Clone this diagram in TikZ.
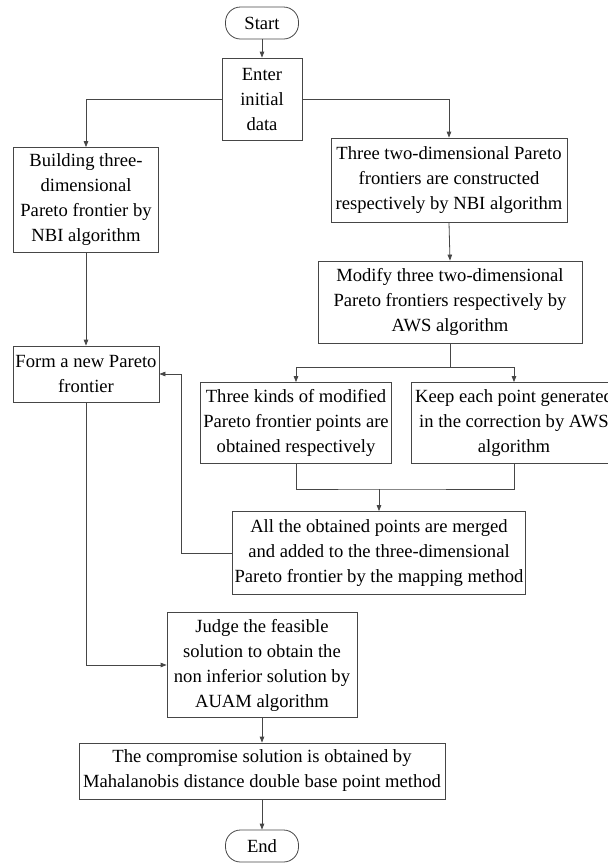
\documentclass[tikz,border=0pt]{standalone}
\usepackage{fontspec}
\setmainfont{Liberation Serif}
\usetikzlibrary{shapes,arrows,arrows.meta,positioning,calc}
\definecolor{linegray}{RGB}{70,70,70}

\begin{document}
\begin{tikzpicture}[x=1pt,y=-1pt,
  procbox/.style={
    draw=linegray, rectangle, align=center, inner sep=1pt, line width=0.8pt,
    font=\fontsize{18.6}{25}\selectfont
  },
  termbox/.style={
    draw=linegray, rectangle, rounded corners=15pt, align=center, line width=0.8pt,
    minimum width=73pt, minimum height=32pt, inner sep=1pt,
    font=\fontsize{18.6}{25}\selectfont
  },
  link/.style={draw=linegray, line width=0.8pt},
  edge/.style={link, -{Triangle[length=6pt,width=4.5pt]}}
]
\useasboundingbox (0,0) rectangle (608,863);

\node[termbox] (start) at (262,23) {Start};
\node[procbox, minimum width=80pt, minimum height=82pt] (enter) at (262,99) {Enter\\initial\\data};
\node[procbox, minimum width=145pt, minimum height=105pt] (build) at (86,200)
  {Building three-\\dimensional\\Pareto frontier by\\NBI algorithm};
\node[procbox, minimum width=236pt, minimum height=84pt] (twodim) at (449,180)
  {Three two-dimensional Pareto\\frontiers are constructed\\respectively by NBI algorithm};
\node[procbox, minimum width=264pt, minimum height=82pt] (modify) at (450,302)
  {Modify three two-dimensional\\Pareto frontiers respectively by\\AWS algorithm};
\node[procbox, minimum width=146pt, minimum height=56pt] (form) at (86,374)
  {Form a new Pareto\\frontier};
\node[procbox, minimum width=191pt, minimum height=81pt] (kinds) at (296,423)
  {Three kinds of modified\\Pareto frontier points are\\obtained respectively};
\node[procbox, minimum width=206pt, minimum height=81pt] (keep) at (514,423)
  {Keep each point generated\\in the correction by AWS\\algorithm};
\node[procbox, minimum width=293pt, minimum height=83pt] (merge) at (379,553)
  {All the obtained points are merged\\and added to the three-dimensional\\Pareto frontier by the mapping method};
\node[procbox, minimum width=190pt, minimum height=105pt] (judge) at (262,665)
  {Judge the feasible\\solution to obtain the\\non inferior solution by\\AUAM algorithm};
\node[procbox, minimum width=366pt, minimum height=56pt] (comp) at (262,771)
  {The compromise solution is obtained by\\Mahalanobis distance double base point method};
\node[termbox] (end) at (262,846) {End};

\coordinate (split) at (450,367);
\coordinate (join) at (379,489);

\draw[edge] (start.south) -- (enter.north);
\draw[edge] (enter.west) -| (build.north);
\draw[edge] (enter.east) -| (twodim.north);
\draw[edge] (twodim.south) -- (modify.north);
\draw[link] (modify.south) -- (split);
\draw[edge] (split) -| (kinds.north);
\draw[edge] (split) -| (keep.north);
\draw[link] (kinds.south) |- (join) -| (keep.south);
\draw[edge] (join) -- (merge.north);
\draw[edge] (build.south) -- (form.north);
\draw[edge] (merge.west) -- ++(-51,0) |- (form.east);
\draw[edge] (form.south) |- (judge.west);
\draw[edge] (judge.south) -- (comp.north);
\draw[edge] (comp.south) -- (end.north);

\end{tikzpicture}
\end{document}
